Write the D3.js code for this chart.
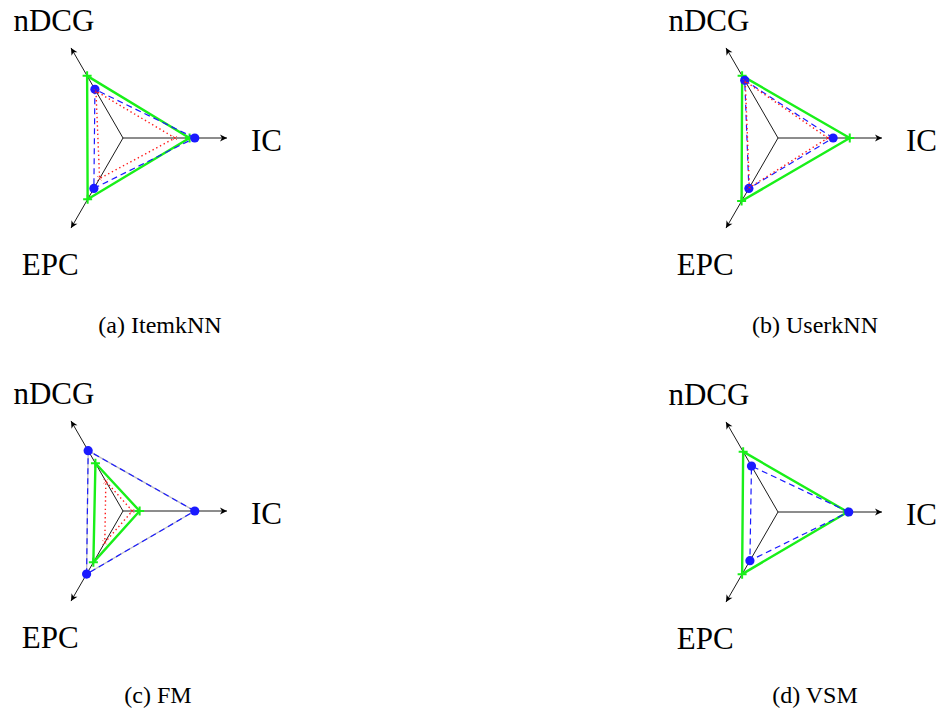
<!DOCTYPE html>
<html>
<head>
<meta charset="utf-8">
<script src="https://cdn.jsdelivr.net/npm/d3@7"></script>
<style>
  html, body { margin: 0; padding: 0; background: #fff; }
  svg { display: block; }
  text { font-family: "Liberation Serif", "DejaVu Serif", serif; fill: #000; }
</style>
</head>
<body>
<svg id="chart" width="941" height="709"></svg>
<script>
// ---------------- data ----------------
const axisNames = ["IC", "nDCG", "EPC"];
const panelTitles = ["(a) ItemkNN", "(b) UserkNN", "(c) FM", "(d) VSM"];
// values per panel, in axis order [IC, nDCG, EPC], normalised to axis length
const greenValues = [[0.64, 0.69, 0.68], [0.69, 0.69, 0.70], [0.16, 0.53, 0.57], [0.67, 0.67, 0.69]];
const blueValues  = [[0.69, 0.54, 0.56], [0.53, 0.64, 0.56], [0.69, 0.67, 0.70], [0.68, 0.51, 0.54]];
const redValues   = [[0.50, 0.52, 0.45], [0.48, 0.63, 0.55], [0.09, 0.33, 0.35], null];
const grayValues  = [null, null, [0.69, 0.67, 0.70], null];

// ---------------- layout ----------------
const R = 104;
const centers = [[123, 138], [778, 138], [123, 511], [778, 512]];
const captionPos = [[160, 325], [815, 325], [158, 695], [815, 695]];

const svg = d3.select("#chart");
const r = d3.scaleLinear().domain([0, 1]).range([0, R]);
// d3 radial angle: 0 = up, clockwise. IC right, nDCG upper-left, EPC lower-left
const angle = d3.scaleOrdinal().domain(axisNames).range([Math.PI / 2, -Math.PI / 6, -5 * Math.PI / 6]);

const radial = d3.lineRadial()
  .angle((d, i) => angle(axisNames[i]))
  .radius(d => r(d))
  .curve(d3.curveLinearClosed);

function pt(name, v) {
  const a = angle(name);
  return [Math.sin(a) * r(v), -Math.cos(a) * r(v)];
}

const series = [
  { vals: grayValues, stroke: "#bdbdbd", width: 1.3, dash: null, marker: null },
  { vals: greenValues, stroke: "#19ef19", width: 2.4, dash: null, marker: "plus" },
  { vals: blueValues, stroke: "#1a1aff", width: 1.2, dash: "6,4", marker: "circle" },
  { vals: redValues, stroke: "#ff1a1a", width: 1.4, dash: "1.4,2.8", marker: "cross" }
];

panelTitles.forEach((title, p) => {
  const g = svg.append("g").attr("transform", `translate(${centers[p][0]},${centers[p][1]})`);

  // axes
  axisNames.forEach(name => {
    const [x, y] = pt(name, 1);
    const a = angle(name);
    g.append("line").attr("x1", 0).attr("y1", 0).attr("x2", x).attr("y2", y)
      .attr("stroke", "#000").attr("stroke-width", 0.9);
    const deg = (a - Math.PI / 2) * 180 / Math.PI;
    g.append("path")
      .attr("d", "M0,0 L-7,-3.4 L-5,0 L-7,3.4 Z")
      .attr("fill", "#000")
      .attr("transform", `translate(${x},${y}) rotate(${deg})`);
  });

  // axis labels
  const lab = g.append("g").attr("font-size", 31);
  lab.append("text").attr("x", R + 24).attr("y", 2).attr("dy", "0.35em")
    .attr("text-anchor", "start").text(axisNames[0]);
  const [nx, ny] = pt("nDCG", 1.33);
  lab.append("text").attr("x", nx).attr("y", ny + 2).attr("dy", "0.35em")
    .attr("text-anchor", "middle").text(axisNames[1]);
  const [ex, ey] = pt("EPC", 1.4);
  lab.append("text").attr("x", ex).attr("y", ey).attr("dy", "0.35em")
    .attr("text-anchor", "middle").text(axisNames[2]);

  // series
  series.forEach(s => {
    const v = s.vals[p];
    if (!v) return;
    g.append("path").attr("d", radial(v))
      .attr("fill", "none").attr("stroke", s.stroke)
      .attr("stroke-width", s.width)
      .attr("stroke-dasharray", s.dash)
      .attr("stroke-linejoin", "round");
    v.forEach((val, i) => {
      const [x, y] = pt(axisNames[i], val);
      if (s.marker === "circle") {
        g.append("circle").attr("cx", x).attr("cy", y).attr("r", 4.6).attr("fill", s.stroke);
      } else if (s.marker === "plus") {
        g.append("path").attr("d", `M${x - 4.5},${y} H${x + 4.5} M${x},${y - 4.5} V${y + 4.5}`)
          .attr("stroke", s.stroke).attr("stroke-width", 2);
      } else if (s.marker === "cross") {
        g.append("path").attr("d", `M${x - 2.2},${y - 2.2} L${x + 2.2},${y + 2.2} M${x - 2.2},${y + 2.2} L${x + 2.2},${y - 2.2}`)
          .attr("stroke", s.stroke).attr("stroke-width", 0.9)
          .attr("stroke-dasharray", "1.2,1");
      }
    });
  });

  // caption
  svg.append("text").attr("x", captionPos[p][0]).attr("y", captionPos[p][1]).attr("dy", "0.35em")
    .attr("text-anchor", "middle").attr("font-size", 24).text(title);
});
</script>
</body>
</html>
